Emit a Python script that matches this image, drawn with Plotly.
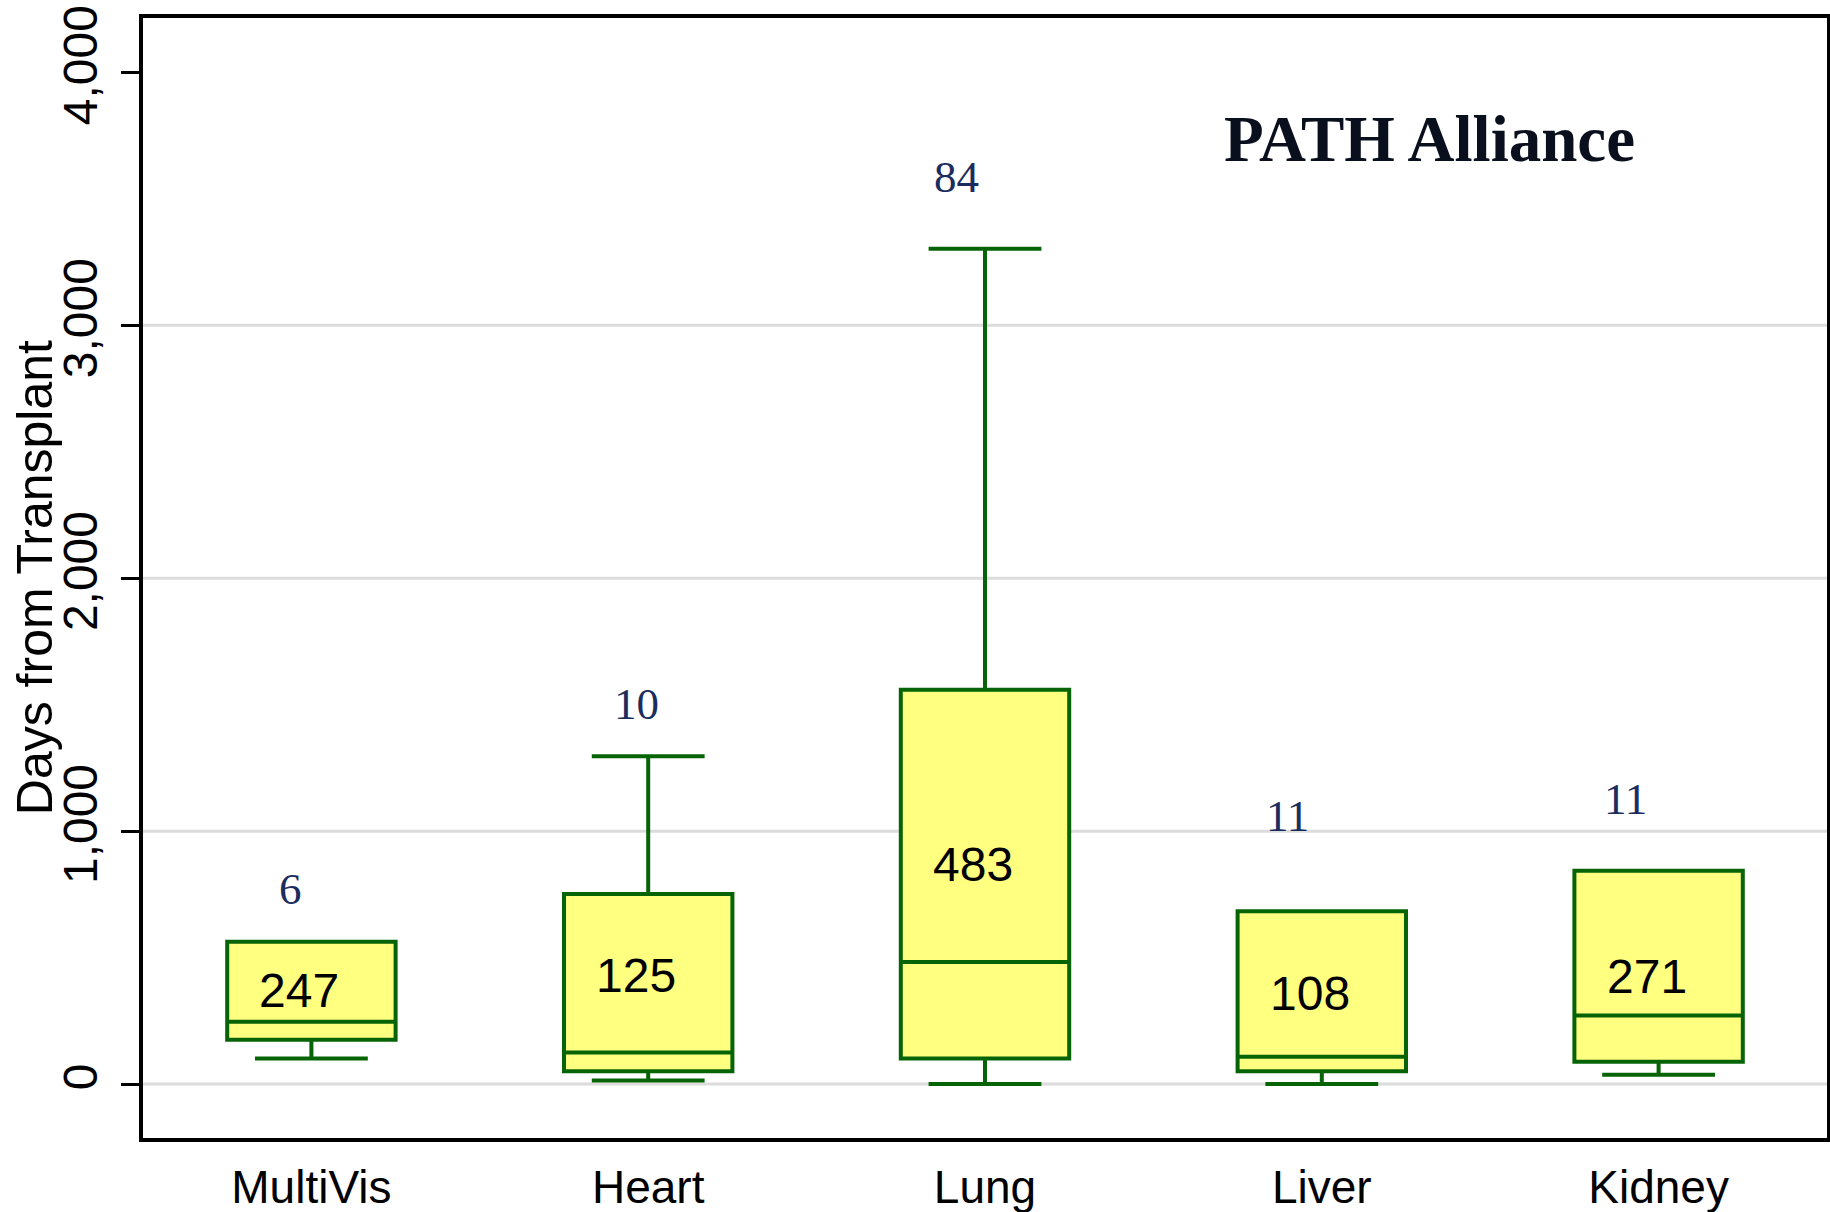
import plotly.graph_objects as go

# ---- data ----
categories = ["MultiVis", "Heart", "Lung", "Liver", "Kidney"]
lower_whisker = [101, 14, 0, 0, 37]
q1 = [175, 51, 101, 51, 88]
median = [247, 125, 483, 108, 271]
q3 = [563, 752, 1559, 683, 844]
upper_whisker = [563, 1296, 3303, 683, 844]
counts = [6, 10, 84, 11, 11]

y_ticks = [0, 1000, 2000, 3000, 4000]
grid_vals = [0, 1000, 2000, 3000]

# ---- style (label offsets in data units / pixels) ----
count_offset = [207, 208, 282, 378, 282]
count_xshift = [-21, -12, -29, -34, -33]
median_label_yshift = [0, 7, 10, -2, -10]

GREEN = "#066406"
FILL = "#FFFF80"
NAVY = "#1b2d5e"

fig = go.Figure()
fig.add_trace(go.Box(
    x=categories, q1=q1, median=median, q3=q3,
    lowerfence=lower_whisker, upperfence=upper_whisker,
    boxpoints=False, fillcolor=FILL,
    line=dict(color=GREEN, width=4),
    width=0.5, whiskerwidth=0.67, showlegend=False, hoverinfo="skip",
))

# median labels, placed in the middle of the box
for c, m, a, b, ys in zip(categories, median, q1, q3, median_label_yshift):
    fig.add_annotation(x=c, y=(a + b) / 2, text=str(m), showarrow=False,
                       xshift=-12, yshift=ys,
                       font=dict(family="Liberation Sans, Arial", size=48, color="black"))

# counts above whiskers
for c, n, u, off, xs in zip(categories, counts, upper_whisker, count_offset, count_xshift):
    fig.add_annotation(x=c, y=u + off, text=str(n), showarrow=False, xshift=xs,
                       font=dict(family="Liberation Serif, Times New Roman, serif", size=45, color=NAVY))

fig.add_annotation(x=0.764, y=0.892, xref="paper", yref="paper", xanchor="center", yanchor="middle",
                   text="<b>PATH Alliance</b>", showarrow=False,
                   font=dict(family="Liberation Serif, Times New Roman, serif", size=65, color="#0a0f1e"))

# y-axis title
fig.add_annotation(x=-0.064, y=0.5, xref="paper", yref="paper", xanchor="center", yanchor="middle",
                   text="Days from Transplant", textangle=-90, showarrow=False,
                   font=dict(family="Liberation Sans, Arial", size=50, color="black"))

for g in grid_vals:
    fig.add_shape(type="line", xref="paper", x0=0, x1=1, yref="y", y0=g, y1=g,
                  line=dict(color="#dcdcdc", width=3), layer="below")

fig.update_layout(
    width=1830, height=1212,
    margin=dict(l=143, r=3, t=18, b=74),
    plot_bgcolor="white", paper_bgcolor="white",
    font=dict(family="Liberation Sans, Arial", color="black"),
)
fig.update_xaxes(
    type="category", range=[-0.5, 4.5], automargin=False,
    showline=True, mirror=True, linewidth=3.5, linecolor="black",
    showgrid=False, ticks="outside", ticklen=6, tickcolor="rgba(0,0,0,0)",
    tickfont=dict(size=46, family="Liberation Sans, Arial", color="black"),
)
fig.update_yaxes(
    range=[-213, 4215], tickvals=y_ticks, ticktext=[f"{v:,}" for v in y_ticks],
    automargin=False,
    tickangle=-90, showline=True, mirror=True, linewidth=3.5, linecolor="black",
    showgrid=False, zeroline=False, ticks="outside", ticklen=18, tickwidth=3, tickcolor="black",
    ticklabelstandoff=5,
    tickfont=dict(size=48, family="Liberation Sans, Arial", color="black"),
)

fig.write_html("out.html", config={"displayModeBar": False},
               post_script="document.body.style.margin='0';")
